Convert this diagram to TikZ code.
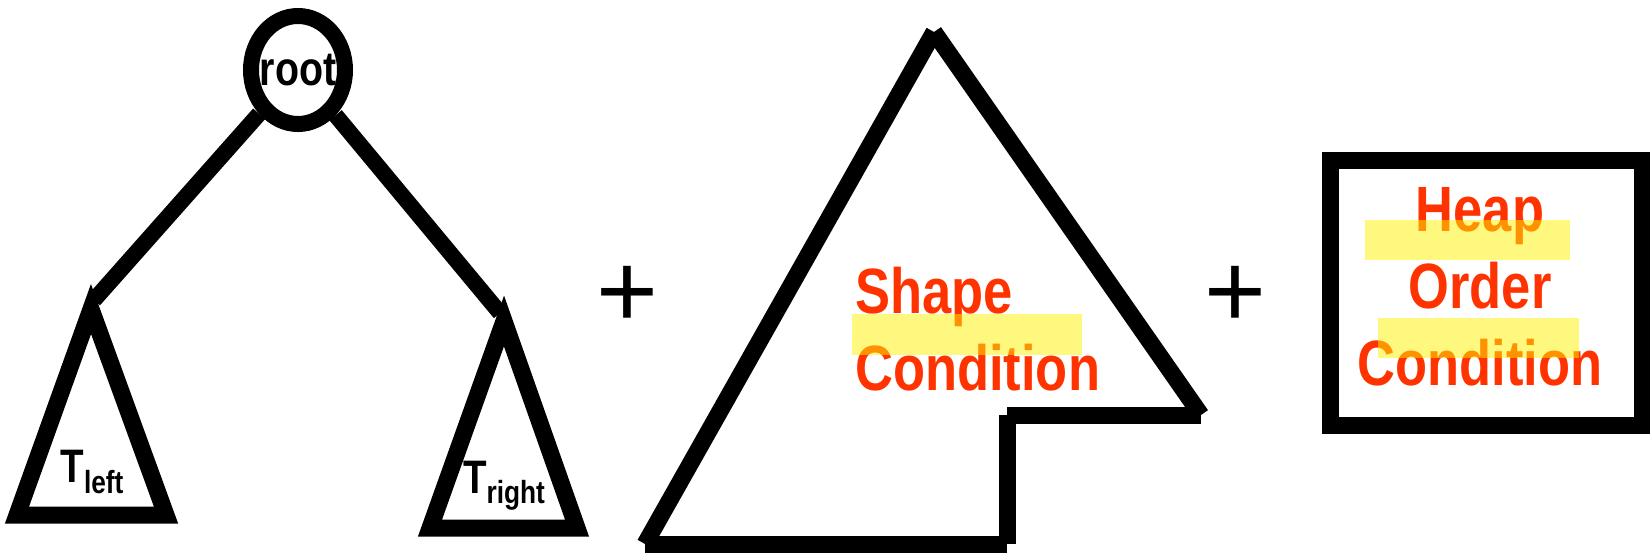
\documentclass[tikz,border=0pt]{standalone}
\usepackage{fontspec}
\setmainfont{Liberation Sans}
\newfontfamily\narrowfont[FakeStretch=0.82]{Liberation Sans}
\usetikzlibrary{shapes.geometric}
\definecolor{condred}{RGB}{255,51,0}

\begin{document}
\begin{tikzpicture}[x=1pt,y=-1pt,
    tree/.style={black, line width=17pt, line join=miter},
    part/.style={black, line width=17pt, line cap=butt},
    cond/.style={text=condred, inner sep=0pt, font=\narrowfont\bfseries\fontsize{64}{77}\selectfont},
    hilite/.style={fill=yellow, fill opacity=0.5},
    plus/.style={anchor=base, inner sep=0pt, font=\fontsize{106}{106}\selectfont}]
    \useasboundingbox (0,0) rectangle (1650,552);
    \node (1) [draw, ellipse, line width=16pt, minimum width=94pt, minimum height=108pt, inner sep=0pt,
               font=\narrowfont\bfseries\fontsize{48}{48}\selectfont] at (298,70) {\makebox[0pt]{root}};

    \coordinate (2) at (94,300);
    \coordinate (3) at (500,313);
    \draw[tree] (91,309) -- (17,515) -- (166,515) -- cycle;
    \draw[tree] (504,321) -- (430,528) -- (577,528) -- cycle;

    \node (4) [anchor=base, inner sep=0pt, font=\narrowfont\bfseries\fontsize{47}{47}\selectfont] at (92,482)
        {T\raisebox{-11pt}{\fontsize{32}{32}\selectfont left}};
    \node (5) [anchor=base, inner sep=0pt, font=\narrowfont\bfseries\fontsize{47}{47}\selectfont] at (504,493)
        {T\raisebox{-10pt}{\fontsize{32}{32}\selectfont right}};

    \path (1) [black, line width=16pt] edge (2)
          (1) [black, line width=16pt] edge (3);

    \node (6) [plus] at (627.5,327) {+};
    \node (7) [plus] at (1235,327) {+};

    \coordinate (10) at (934,32);
    \coordinate (11) at (645,544);
    \coordinate (12) at (1007,544);
    \coordinate (13) at (1007,415);
    \coordinate (14) at (1201,415);
    \draw[part] (10) -- (11);
    \draw[part] (11) -- (12);
    \draw[part] (12) -- (13);
    \draw[part] (13) -- (14);
    \draw[part] (14) -- (10);
    \node (8) [cond, anchor=base west, align=left] at (855,390) {Shape\\Condition};
    \fill[hilite] (852,314) rectangle (1082,355);

    \draw[tree] (1330,160) rectangle (1642,425);
    \node (9) [cond, anchor=base, align=center] at (1480,385) {Heap\\Order\\Condition};
    \fill[hilite] (1365,220) rectangle (1570,260);
    \fill[hilite] (1378,318) rectangle (1579,358);
\end{tikzpicture}
\end{document}
